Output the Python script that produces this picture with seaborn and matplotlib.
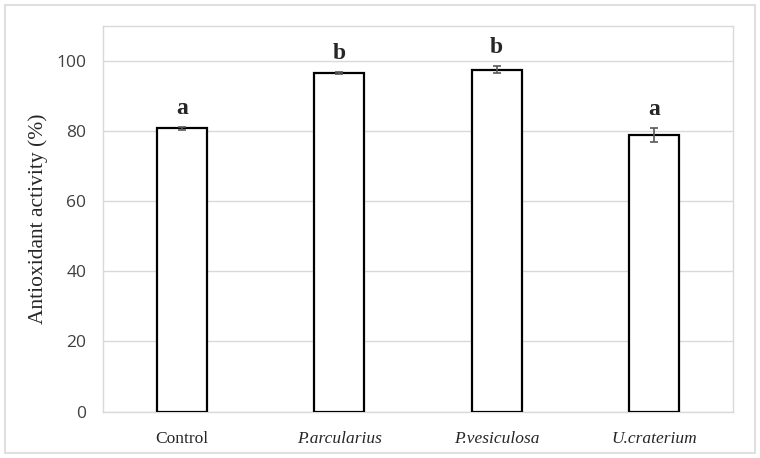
import pandas as pd
import numpy as np
import matplotlib.pyplot as plt
from matplotlib.patches import Rectangle
import seaborn as sns

sns.set_style('white')

# data
groups = ['Control', 'P.arcularius', 'P.vesiculosa', 'U.craterium']
activity = [80.8, 96.5, 97.5, 79.0]
sd = [0.5, 0.3, 1.0, 2.0]
letters = ['a', 'b', 'b', 'a']

df = pd.DataFrame({'group': groups, 'activity': activity})

fig = plt.figure(figsize=(7.6, 4.58), dpi=100)
ax = fig.add_axes([0.1355, 0.1015, 0.829, 0.8417])

sns.barplot(x='group', y='activity', data=df, color='white', edgecolor='black',
            linewidth=1.6, width=0.317, errorbar=None, ax=ax, zorder=3)
ax.errorbar(range(len(groups)), activity, yerr=sd, fmt='none', ecolor='#595959',
            elinewidth=1.2, capsize=3, capthick=1.2, zorder=4)

for i, (v, e, l) in enumerate(zip(activity, sd, letters)):
    ax.text(i, v + e + 2.3, l, ha='center', va='bottom', fontsize=17,
            fontweight='bold', family='Liberation Serif')

ax.set_ylim(0, 110)
ax.set_xlim(-0.5, 3.5)
ax.set_yticks(range(0, 101, 20))
ax.yaxis.grid(True, color='#d9d9d9', linewidth=1)
ax.set_axisbelow(True)
for s in ax.spines.values():
    s.set_color('#d9d9d9')
    s.set_linewidth(1)
ax.tick_params(axis='both', length=0)
ax.tick_params(axis='y', labelsize=12.5, labelcolor='#404040', pad=12)
for t in ax.get_yticklabels():
    t.set_family('Open Sans')

ax.set_xlabel('')
ax.set_ylabel('Antioxidant activity (%)', fontsize=15.5, family='Liberation Serif',
              color='#262626', labelpad=6)
ax.set_xticks(range(len(groups)))
ax.set_xticklabels(groups, family='Liberation Serif', fontsize=12.5, color='#262626')
for t in ax.get_xticklabels()[1:]:
    t.set_style('italic')
ax.tick_params(axis='x', pad=14)

fig.patches.append(Rectangle((0.0066, 0.011), 0.9868, 0.978, transform=fig.transFigure,
                             fill=False, edgecolor='#d9d9d9', linewidth=1.2))

fig.savefig('out.png', dpi=100)
